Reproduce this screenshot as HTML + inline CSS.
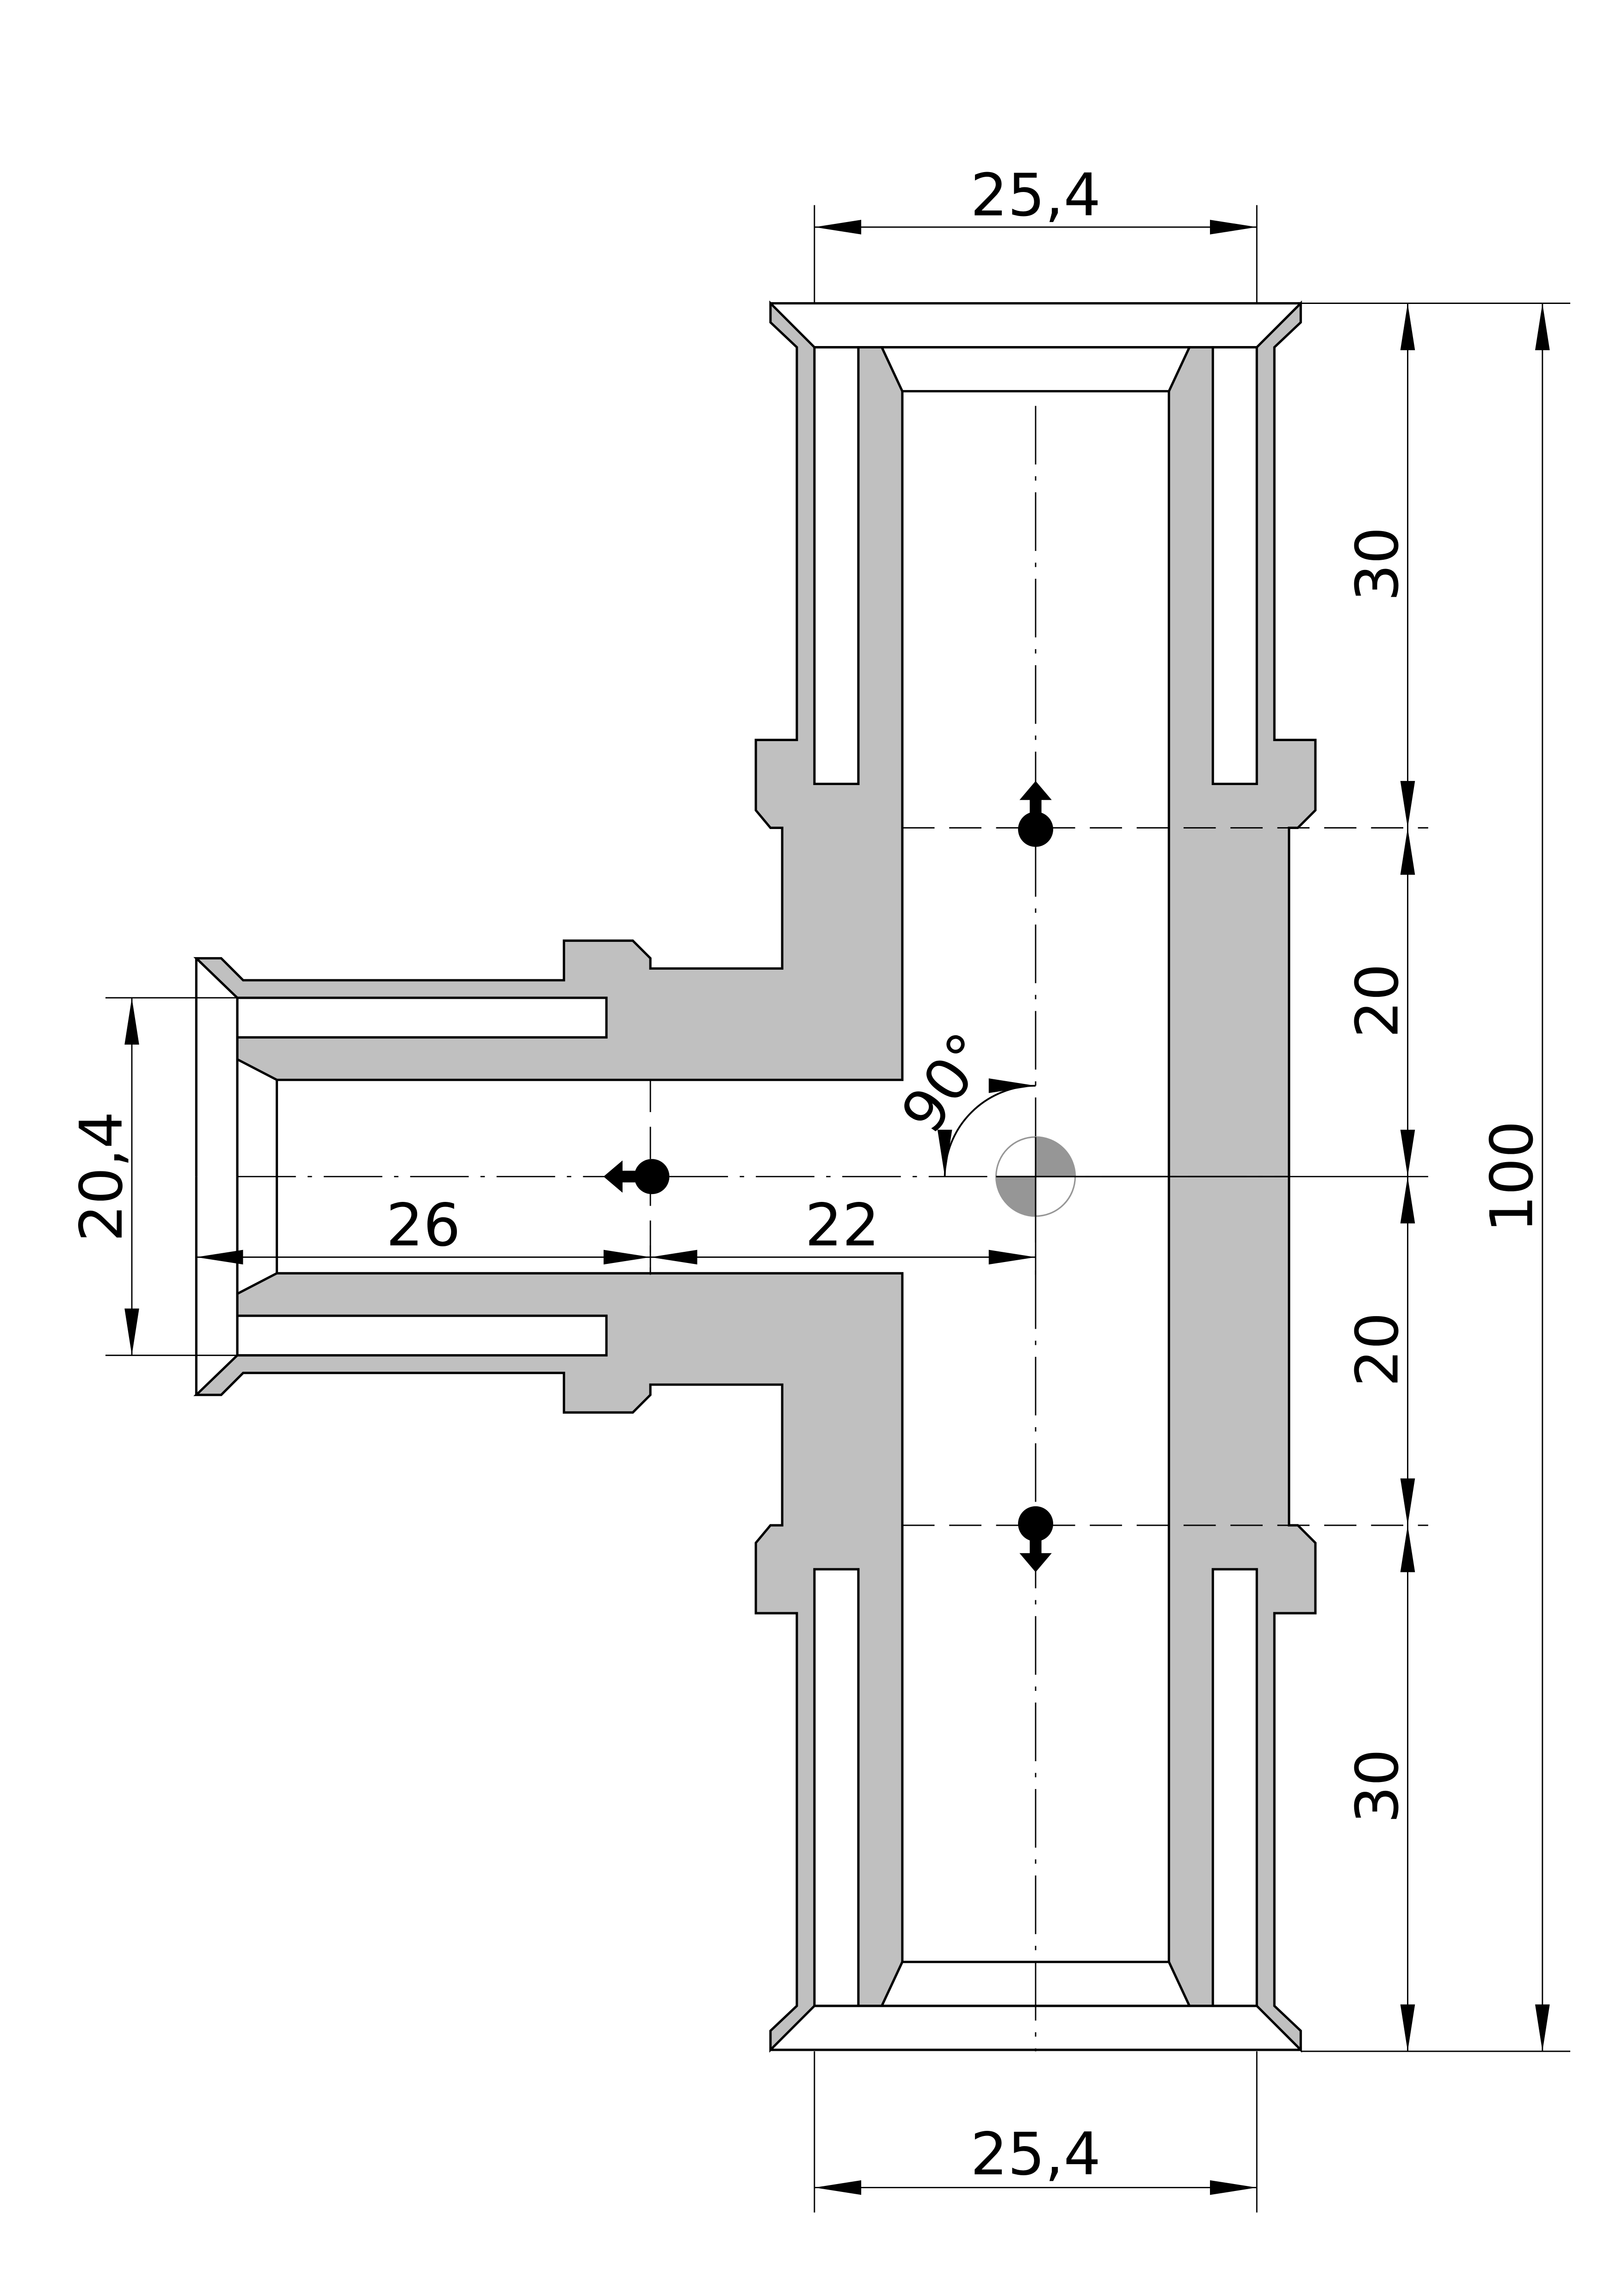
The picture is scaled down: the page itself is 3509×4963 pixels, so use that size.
<!DOCTYPE html>
<html><head><meta charset="utf-8"><style>html,body{margin:0;padding:0;background:#fff}svg{display:block}</style></head>
<body>
<svg xmlns="http://www.w3.org/2000/svg" width="3509" height="4963" viewBox="0 0 1108 1567" preserveAspectRatio="none">
<defs>
<marker id="a" viewBox="0 0 32 10" refX="32" refY="5" markerWidth="32" markerHeight="10" markerUnits="userSpaceOnUse" orient="auto-start-reverse"><path d="M0,0L32,5L0,10z" fill="#000"/></marker>
<g id="lefthalf">
<polygon points="544,505 544,237 526,220 526,207 556,237 602,237 616,267 616,737 189,737 162,723 162,681 134,654 151,654 166,669 385,669 385,642 432,642 444,654 444,661 534,661 534,565 526,565 516,553 516,505" fill="#c0c0c0" stroke="#000" stroke-width="1.6" stroke-linejoin="miter"/>
<rect x="556" y="237" width="30" height="298" fill="#fff" stroke="#000" stroke-width="1.6"/>
<rect x="162" y="681" width="252" height="27" fill="#fff" stroke="#000" stroke-width="1.6"/>
<polygon points="602,237 812,237 798,267 616,267" fill="#fff" stroke="#000" stroke-width="1.6"/>
<line x1="526" y1="207" x2="888" y2="207" stroke="#000" stroke-width="1.6"/>
<line x1="556" y1="237" x2="858" y2="237" stroke="#000" stroke-width="1.6"/>
<line x1="134" y1="654" x2="134" y2="803" stroke="#000" stroke-width="1.6"/>
<line x1="162" y1="681" x2="162" y2="803" stroke="#000" stroke-width="1.6"/>
</g>
</defs>
<rect width="1108" height="1567" fill="#fff"/>
<!-- right wall -->
<polygon points="798,267 812,237 858,237 888,207 888,220 870,237 870,505 898,505 898,553 886,565 880,565 880,1041 886,1041 898,1053 898,1101 870,1101 870,1369 888,1386 888,1399 858,1369 812,1369 798,1339" fill="#c0c0c0" stroke="#000" stroke-width="1.6"/>
<rect x="828" y="237" width="30" height="298" fill="#fff" stroke="#000" stroke-width="1.6"/>
<rect x="828" y="1071" width="30" height="298" fill="#fff" stroke="#000" stroke-width="1.6"/>
<use href="#lefthalf"/>
<use href="#lefthalf" transform="matrix(1,0,0,-1,0,1606)"/>
<line x1="189" y1="737" x2="189" y2="869" stroke="#000" stroke-width="1.6"/>
<!-- centre lines -->
<g stroke="#000" stroke-width="0.9" fill="none">
<line x1="707" y1="277" x2="707" y2="1400" stroke-dasharray="40,8,3,8"/>
<line x1="162" y1="803" x2="880" y2="803" stroke-dasharray="40,8,3,8"/>
<line x1="616" y1="565" x2="975" y2="565" stroke-dasharray="22,10"/>
<line x1="616" y1="1041" x2="975" y2="1041" stroke-dasharray="22,10"/>
<line x1="444" y1="737" x2="444" y2="869" stroke-dasharray="22,10"/>
</g>
<!-- centre symbol -->
<circle cx="707" cy="803" r="27" fill="#fff" stroke="#969696" stroke-width="1"/>
<path d="M707,803 L707,776 A27,27 0 0 1 734,803 Z" fill="#969696"/>
<path d="M707,803 L707,830 A27,27 0 0 1 680,803 Z" fill="#969696"/>
<line x1="707" y1="776" x2="707" y2="830" stroke="#000" stroke-width="1"/>
<line x1="680" y1="803" x2="880" y2="803" stroke="#000" stroke-width="1"/>
<!-- pins -->
<circle cx="707" cy="566" r="12"/>
<polygon points="707,533 696,546 703,546 703,556 711,556 711,546 718,546"/>
<circle cx="707" cy="1040" r="12"/>
<polygon points="707,1073 696,1060 703,1060 703,1050 711,1050 711,1060 718,1060"/>
<circle cx="445" cy="803" r="12"/>
<polygon points="412,803 425,792 425,799 435,799 435,807 425,807 425,814"/>
<!-- dimensions -->
<g stroke="#000" stroke-width="0.9" fill="none">
<line x1="556" y1="140" x2="556" y2="207"/><line x1="858" y1="140" x2="858" y2="207"/>
<line x1="556" y1="155" x2="858" y2="155" marker-start="url(#a)" marker-end="url(#a)"/>
<line x1="556" y1="1400" x2="556" y2="1510"/><line x1="858" y1="1400" x2="858" y2="1510"/>
<line x1="556" y1="1493" x2="858" y2="1493" marker-start="url(#a)" marker-end="url(#a)"/>
<line x1="888" y1="207" x2="1072" y2="207"/><line x1="888" y1="1400" x2="1072" y2="1400"/>
<line x1="880" y1="803" x2="975" y2="803"/>
<line x1="961" y1="207" x2="961" y2="565" marker-start="url(#a)" marker-end="url(#a)"/>
<line x1="961" y1="565" x2="961" y2="803" marker-start="url(#a)" marker-end="url(#a)"/>
<line x1="961" y1="803" x2="961" y2="1041" marker-start="url(#a)" marker-end="url(#a)"/>
<line x1="961" y1="1041" x2="961" y2="1400" marker-start="url(#a)" marker-end="url(#a)"/>
<line x1="1053" y1="207" x2="1053" y2="1400" marker-start="url(#a)" marker-end="url(#a)"/>
<line x1="72" y1="681" x2="162" y2="681"/><line x1="72" y1="925" x2="162" y2="925"/>
<line x1="90" y1="681" x2="90" y2="925" marker-start="url(#a)" marker-end="url(#a)"/>
<line x1="134" y1="858" x2="444" y2="858" marker-start="url(#a)" marker-end="url(#a)"/>
<line x1="444" y1="858" x2="707" y2="858" marker-start="url(#a)" marker-end="url(#a)"/>
<line x1="444" y1="850" x2="444" y2="870"/>
<line x1="707" y1="830" x2="707" y2="870"/>
<path d="M707,741 A62,62 0 0 0 645,803" stroke-width="1.2" marker-start="url(#a)" marker-end="url(#a)"/>
</g>
<g font-family="DejaVu Sans, Liberation Sans, sans-serif" font-size="40" fill="#000" text-anchor="middle">
<text x="707" y="147">25,4</text>
<text x="707" y="1484">25,4</text>
<text x="289" y="850">26</text>
<text x="575" y="850">22</text>
<text transform="translate(954,385) rotate(-90)">30</text>
<text transform="translate(954,683) rotate(-90)">20</text>
<text transform="translate(954,921) rotate(-90)">20</text>
<text transform="translate(954,1219) rotate(-90)">30</text>
<text transform="translate(1046,803) rotate(-90)">100</text>
<text transform="translate(83,803) rotate(-90)">20,4</text>
<text transform="translate(657,747) rotate(-55)">90°</text>
</g>
</svg>
</body></html>
